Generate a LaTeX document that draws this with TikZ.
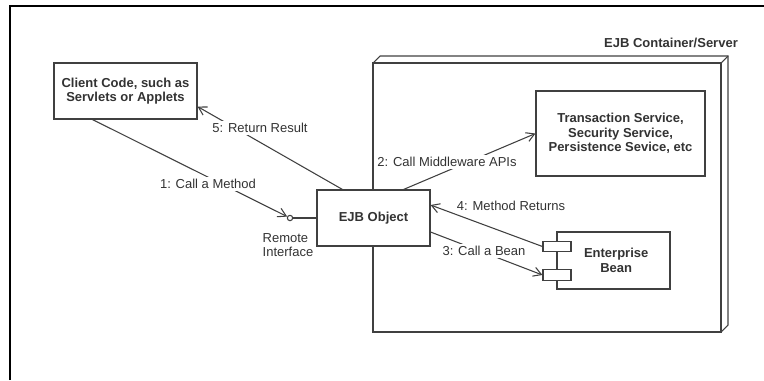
\documentclass[tikz,border=0pt]{standalone}
\usepackage{fontspec}
\setmainfont{Liberation Sans}
\usepackage{tikz}
\usetikzlibrary{arrows.meta}

\begin{document}
\begin{tikzpicture}[x=0.75pt, y=-0.75pt, every node/.style={font=\fontsize{9.75}{11}\selectfont, text=black!80}]
        % Define styles
        \tikzstyle{block} = [rectangle, draw=black!75, line width=0.8pt, fill=white,
                             align=center, font=\fontsize{9.75}{11}\selectfont\bfseries]
        \tikzstyle{port} = [rectangle, draw=black!75, line width=0.8pt, fill=white,
                            minimum width=21pt, minimum height=8pt, inner sep=0pt]
        \tikzstyle{msg} = [fill=white, inner sep=2pt]
        \tikzstyle{wall} = [draw=black!75, line width=0.8pt]
        \tikzstyle{arrow} = [line width=0.8pt, draw=black!75, -{Straight Barb[length=6pt,width=7pt]}]

        \useasboundingbox (0,0) rectangle (764,380);

        % Frame
        \draw [line width=1.5pt] (10,380) -- (10,6) -- (764,6);

        % Container (3D box)
        \draw [wall] (373,63) rectangle (721,332);
        \draw [wall] (373,63) -- (380,56) -- (728,56) -- (728,325) -- (721,332);
        \draw [wall] (721,63) -- (728,56);
        \node (container) [font=\fontsize{9.75}{11}\selectfont\bfseries] at (671,43) {EJB Container/Server};

        % Blocks
        \node (client) [block, minimum width=107.25pt, minimum height=42pt] at (125.5,91) {Client Code, such as\\Servlets or Applets};
        \node (ejb) [block, minimum width=84.75pt, minimum height=42pt] at (373.5,218) {EJB Object};
        \node (services) [block, minimum width=126.75pt, minimum height=63.75pt] at (620.5,133.5) {Transaction Service,\\Security Service,\\Persistence Sevice, etc};
        \node (bean) [block, minimum width=84.75pt, minimum height=42.75pt] at (613.5,260.5) {\hspace{4pt}Enterprise\\\hspace{4pt}Bean};
        \node (porttop) [port] at (557,246.5) {};
        \node (portbot) [port] at (557,275) {};
        \node (remote) [circle, draw=black!75, line width=0.8pt, fill=white, minimum size=4pt, inner sep=0pt] at (290,218) {};
        \node (remotelbl) [align=left] at (288,245) {Remote\\Interface};

        % Arrows
        \draw [wall] (remote) -- (ejb.west);
        \draw [arrow] ([xshift=29.25pt]client.south west) -- (remote);
        \draw [arrow] ([xshift=-20.25pt]ejb.north east) -- (services.west);
        \draw [arrow] ([yshift=-10.5pt]ejb.east) -- (portbot.west);
        \draw [arrow] (porttop.west) -- ([yshift=9.75pt]ejb.east);
        \draw [arrow] ([xshift=19.5pt]ejb.north west) -- ([yshift=9.75pt]client.south east);

        % Message labels
        \node (call) [msg] at (208,184) {1: Call a Method};
        \node (middleware) [msg] at (447,162) {2: Call Middleware APIs};
        \node (callbean) [msg] at (484,251) {3: Call a Bean};
        \node (returns) [msg] at (511,206) {4: Method Returns};
        \node (result) [msg] at (260,128) {5: Return Result};
    \end{tikzpicture}
\end{document}
